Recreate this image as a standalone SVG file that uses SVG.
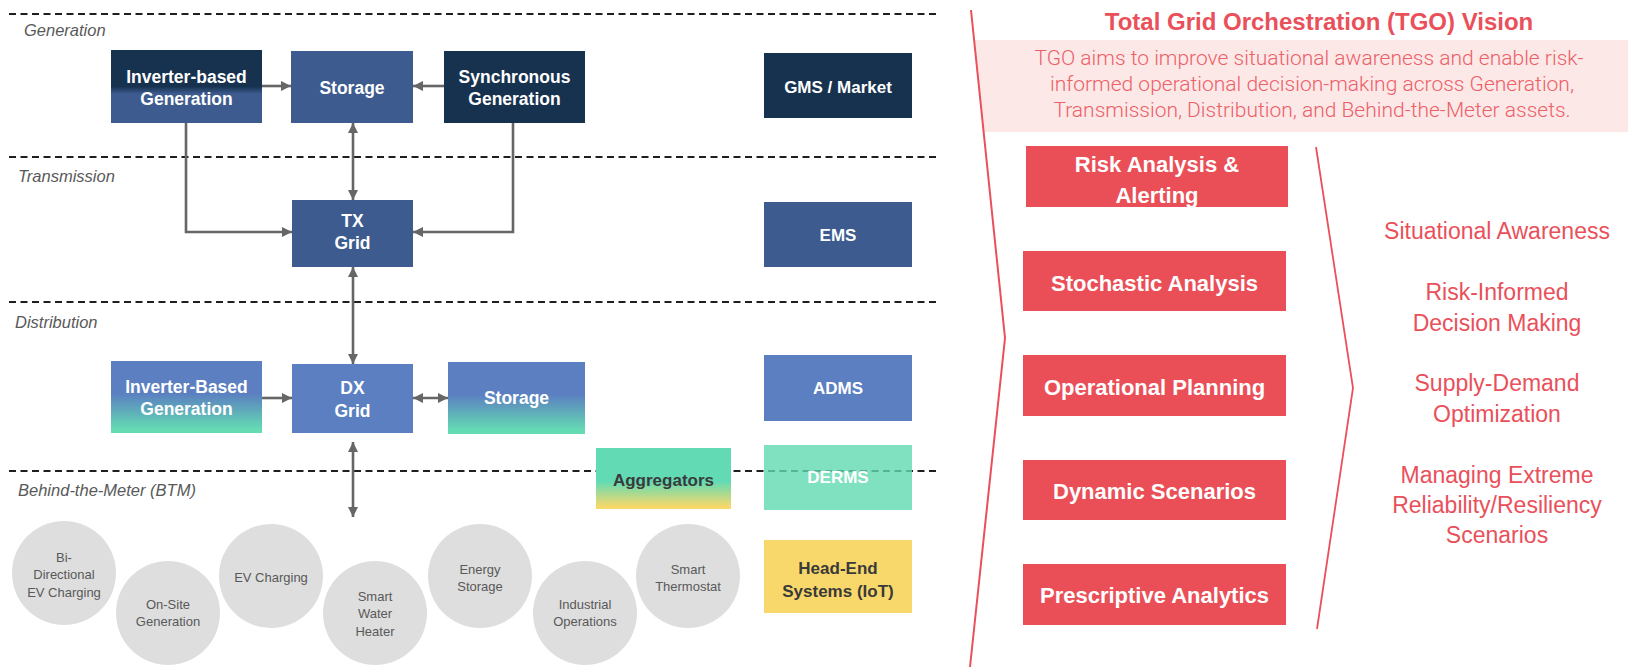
<svg xmlns="http://www.w3.org/2000/svg" width="1628" height="668" viewBox="0 0 1628 668">
<defs>
<style>
.bg{fill:#ffffff}
.lane{stroke:#1f1f1f;stroke-width:2;stroke-dasharray:7 4.5;fill:none}
.lbl{font-family:"Liberation Sans",Arial,sans-serif;font-style:italic;font-size:16.5px;fill:#595959}
.bt{font-family:"Liberation Sans",Arial,sans-serif;font-weight:bold;font-size:17.5px;fill:#ffffff;text-anchor:middle}
.bd{fill:#3a3a3a}
.navy{fill:#17324F}
.mid{fill:#3D5B8F}
.light{fill:#5B7FC1}
.circ{fill:#DEDEDE}
.ct{font-family:"Liberation Sans",Arial,sans-serif;font-size:13px;fill:#595959;text-anchor:middle}
.conn{stroke:#666666;stroke-width:2.6;fill:none}
.red{fill:#EA4F57}
.rt{font-family:"Liberation Sans",Arial,sans-serif;font-weight:bold;font-size:22px;fill:#ffffff;text-anchor:middle}
.ot{font-family:"Liberation Sans",Arial,sans-serif;font-size:23px;fill:#E9505A;text-anchor:middle}
.brk{stroke:#E9505A;stroke-width:2;fill:none}
</style>
<linearGradient id="gIBG" x1="0" y1="0" x2="0" y2="1">
<stop offset="0" stop-color="#17324F"/>
<stop offset="0.5" stop-color="#17324F"/>
<stop offset="0.6" stop-color="#3D5B8F"/>
<stop offset="1" stop-color="#3D5B8F"/>
</linearGradient>
<linearGradient id="gBT" x1="0" y1="0" x2="0" y2="1">
<stop offset="0" stop-color="#5B7FC1"/>
<stop offset="0.45" stop-color="#5B7FC1"/>
<stop offset="0.95" stop-color="#64DBB3"/>
<stop offset="1" stop-color="#64DBB3"/>
</linearGradient>
<linearGradient id="gAgg" x1="0" y1="0" x2="0" y2="1">
<stop offset="0" stop-color="#62DBB4"/>
<stop offset="0.55" stop-color="#62DBB4"/>
<stop offset="0.96" stop-color="#F7D86A"/>
<stop offset="1" stop-color="#F7D86A"/>
</linearGradient>
<marker id="ah" viewBox="0 0 10 10" refX="10" refY="5" markerWidth="10" markerHeight="10" markerUnits="userSpaceOnUse" orient="auto-start-reverse">
<path d="M0,0 L10,5 L0,10 Z" fill="#666666"/>
</marker>
</defs>
<rect class="bg" x="0" y="0" width="1628" height="668"/>

<g id="lanes">
<line class="lane" x1="9" y1="14" x2="937" y2="14"/>
<line class="lane" x1="9" y1="157" x2="937" y2="157"/>
<line class="lane" x1="9" y1="302" x2="937" y2="302"/>
<line class="lane" x1="9" y1="471" x2="940" y2="471"/>
<text class="lbl" x="24" y="36">Generation</text>
<text class="lbl" x="18" y="182">Transmission</text>
<text class="lbl" x="15" y="328">Distribution</text>
<text class="lbl" x="18" y="496">Behind-the-Meter (BTM)</text>
</g>

<g id="connectors">
<path class="conn" d="M262,86 H291" marker-end="url(#ah)"/>
<path class="conn" d="M444,86 H413" marker-end="url(#ah)"/>
<path class="conn" d="M353,123 V200" marker-start="url(#ah)" marker-end="url(#ah)"/>
<path class="conn" d="M186,123 V232 H292" marker-end="url(#ah)"/>
<path class="conn" d="M513,123 V232 H413" marker-end="url(#ah)"/>
<path class="conn" d="M353,267 V364" marker-start="url(#ah)" marker-end="url(#ah)"/>
<path class="conn" d="M262,398 H292" marker-end="url(#ah)"/>
<path class="conn" d="M413,398 H448" marker-start="url(#ah)" marker-end="url(#ah)"/>
<path class="conn" d="M353,442 V517" marker-start="url(#ah)" marker-end="url(#ah)"/>
</g>

<g id="ibg-gen">
<rect x="111" y="50" width="151" height="73" fill="url(#gIBG)"/>
<text class="bt" x="186.5" y="83">Inverter-based</text>
<text class="bt" x="186.5" y="105">Generation</text>
</g>
<g id="storage-gen">
<rect class="mid" x="291" y="51" width="122" height="72"/>
<text class="bt" x="352" y="94">Storage</text>
</g>
<g id="sync-gen">
<rect class="navy" x="444" y="51" width="141" height="72"/>
<text class="bt" x="514.5" y="83">Synchronous</text>
<text class="bt" x="514.5" y="105">Generation</text>
</g>
<g id="tx-grid">
<rect class="mid" x="292" y="200" width="121" height="67"/>
<text class="bt" x="352.5" y="227">TX</text>
<text class="bt" x="352.5" y="249">Grid</text>
</g>
<g id="ibg-dist">
<rect x="111" y="361" width="151" height="72" fill="url(#gBT)"/>
<text class="bt" x="186.5" y="393">Inverter-Based</text>
<text class="bt" x="186.5" y="415">Generation</text>
</g>
<g id="dx-grid">
<rect class="light" x="292" y="364" width="121" height="69"/>
<text class="bt" x="352.5" y="394">DX</text>
<text class="bt" x="352.5" y="417">Grid</text>
</g>
<g id="storage-dist">
<rect x="448" y="362" width="137" height="72" fill="url(#gBT)"/>
<text class="bt" x="516.5" y="404">Storage</text>
</g>

<g id="gms">
<rect class="navy" x="764" y="53" width="148" height="65"/>
<text class="bt" x="838" y="93" style="font-size:17px">GMS / Market</text>
</g>
<g id="ems">
<rect class="mid" x="764" y="202" width="148" height="65"/>
<text class="bt" x="838" y="241" style="font-size:17px">EMS</text>
</g>
<g id="adms">
<rect class="light" x="764" y="355" width="148" height="66"/>
<text class="bt" x="838" y="394" style="font-size:17px">ADMS</text>
</g>
<g id="aggregators">
<rect x="596" y="448" width="135" height="61" fill="url(#gAgg)"/>
<text class="bt bd" x="663.5" y="486" style="font-size:17px">Aggregators</text>
</g>
<g id="derms">
<rect x="764" y="445" width="148" height="65" fill="#5FDAB0" fill-opacity="0.8"/>
<text class="bt" x="838" y="483" style="font-size:17px">DERMS</text>
</g>
<g id="headend">
<rect x="764" y="540" width="148" height="73" fill="#F9D86B"/>
<text class="bt bd" x="838" y="574" style="font-size:17px">Head-End</text>
<text class="bt bd" x="838" y="597" style="font-size:17px">Systems (IoT)</text>
</g>

<g id="btm-bidir">
<ellipse class="circ" cx="64" cy="573" rx="52" ry="52"/>
<text class="ct" x="64" y="562">Bi-</text>
<text class="ct" x="64" y="579">Directional</text>
<text class="ct" x="64" y="597">EV Charging</text>
</g>
<g id="btm-onsite">
<ellipse class="circ" cx="168" cy="613" rx="52" ry="52"/>
<text class="ct" x="168" y="609">On-Site</text>
<text class="ct" x="168" y="626">Generation</text>
</g>
<g id="btm-ev">
<ellipse class="circ" cx="271" cy="576" rx="52" ry="52"/>
<text class="ct" x="271" y="582">EV Charging</text>
</g>
<g id="btm-water">
<ellipse class="circ" cx="375" cy="613" rx="52" ry="52"/>
<text class="ct" x="375" y="601">Smart</text>
<text class="ct" x="375" y="618">Water</text>
<text class="ct" x="375" y="636">Heater</text>
</g>
<g id="btm-energy">
<ellipse class="circ" cx="480" cy="576" rx="52" ry="52"/>
<text class="ct" x="480" y="574">Energy</text>
<text class="ct" x="480" y="591">Storage</text>
</g>
<g id="btm-industrial">
<ellipse class="circ" cx="585" cy="613" rx="52" ry="52"/>
<text class="ct" x="585" y="609">Industrial</text>
<text class="ct" x="585" y="626">Operations</text>
</g>
<g id="btm-thermostat">
<ellipse class="circ" cx="688" cy="576" rx="52" ry="52"/>
<text class="ct" x="688" y="574">Smart</text>
<text class="ct" x="688" y="591">Thermostat</text>
</g>

<g id="tgo-vision">
<polygon points="974,40 1628,40 1628,132 983,132" fill="#FDE8E8"/>
<text x="1319" y="30" text-anchor="middle" style="font-family:'Liberation Sans',Arial,sans-serif;font-weight:bold;font-size:24px;fill:#E9505A">Total Grid Orchestration (TGO) Vision</text>
<g style="font-family:Roboto,'Liberation Sans',sans-serif;font-weight:300;font-size:21px;fill:#EC5F67" text-anchor="middle">
<text x="1309" y="65">TGO aims to improve situational awareness and enable risk-</text>
<text x="1312" y="91">informed operational decision-making across Generation,</text>
<text x="1312" y="117">Transmission, Distribution, and Behind-the-Meter assets.</text>
</g>
<polyline class="brk" points="971,10 1005,338 970,667"/>
</g>

<g id="cap-risk">
<rect class="red" x="1026" y="146" width="262" height="61"/>
<text class="rt" x="1157" y="172">Risk Analysis &amp;</text>
<text class="rt" x="1157" y="203">Alerting</text>
</g>
<g id="cap-stochastic">
<rect class="red" x="1023" y="251" width="263" height="60"/>
<text class="rt" x="1154.5" y="291">Stochastic Analysis</text>
</g>
<g id="cap-operational">
<rect class="red" x="1023" y="355" width="263" height="61"/>
<text class="rt" x="1154.5" y="395">Operational Planning</text>
</g>
<g id="cap-dynamic">
<rect class="red" x="1023" y="460" width="263" height="60"/>
<text class="rt" x="1154.5" y="499">Dynamic Scenarios</text>
</g>
<g id="cap-prescriptive">
<rect class="red" x="1023" y="564" width="263" height="61"/>
<text class="rt" x="1154.5" y="603">Prescriptive Analytics</text>
</g>

<g id="outcomes">
<polyline class="brk" points="1316,147 1353,388 1317,629" style="stroke-width:1.8"/>
<text class="ot" x="1497" y="239">Situational Awareness</text>
<text class="ot" x="1497" y="300">Risk-Informed</text>
<text class="ot" x="1497" y="331">Decision Making</text>
<text class="ot" x="1497" y="391">Supply-Demand</text>
<text class="ot" x="1497" y="422">Optimization</text>
<text class="ot" x="1497" y="483">Managing Extreme</text>
<text class="ot" x="1497" y="513">Reliability/Resiliency</text>
<text class="ot" x="1497" y="543">Scenarios</text>
</g>
</svg>
